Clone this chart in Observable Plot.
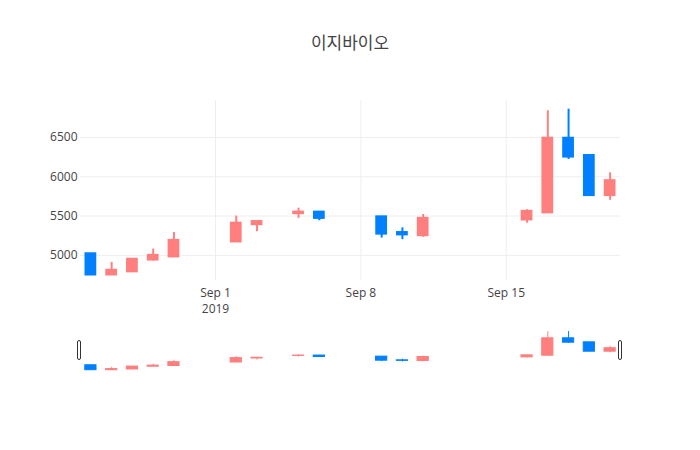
<!DOCTYPE html>
<html>
<head>
<meta charset="utf-8">
<script src="https://cdn.jsdelivr.net/npm/d3@7"></script>
<script src="https://cdn.jsdelivr.net/npm/@observablehq/plot@0.6"></script>
<style>
  html, body { margin: 0; padding: 0; background: #fff; }
  #wrap { position: relative; width: 700px; height: 450px; background: #fff; overflow: hidden; }
  #title { position: absolute; left: 0; top: 33px; width: 700px; text-align: center; z-index: 5;
    font-family: 'Open Sans', 'Noto Sans CJK KR', sans-serif; font-size: 17px; line-height: 20px; color: #444; }
  .pane { position: absolute; left: 0; }
  .handle { position: absolute; top: 340px; width: 2px; height: 18px; background: #fff; z-index: 5;
    border: 1px solid #333; border-radius: 2px; }
</style>
</head>
<body>
<div id="wrap">
  <div id="main" class="pane" style="top:0"></div>
  <div id="slider" class="pane" style="top:329px"></div>
  <div id="title">이지바이오</div>
  <div class="handle" style="left:77px"></div>
  <div class="handle" style="left:618px"></div>
</div>
<script>
// ---- data ----
const dates = ["2019-08-26","2019-08-27","2019-08-28","2019-08-29","2019-08-30",
  "2019-09-02","2019-09-03","2019-09-05","2019-09-06",
  "2019-09-09","2019-09-10","2019-09-11",
  "2019-09-16","2019-09-17","2019-09-18","2019-09-19","2019-09-20"];
const openV  = [5020, 4750, 4790, 4940, 4980, 5170, 5390, 5530, 5550, 5490, 5290, 5250, 5450, 5540, 6490, 6270, 5760];
const highV  = [5020, 4910, 4950, 5080, 5290, 5500, 5430, 5600, 5550, 5490, 5350, 5520, 5580, 6840, 6860, 6270, 6050];
const lowV   = [4750, 4750, 4790, 4930, 4980, 5170, 5300, 5470, 5440, 5220, 5200, 5230, 5410, 5540, 6220, 5760, 5700];
const closeV = [4750, 4810, 4950, 5000, 5190, 5410, 5430, 5550, 5470, 5270, 5260, 5470, 5560, 6490, 6250, 5760, 5950];
const xTicks = ["2019-09-01","2019-09-08","2019-09-15"];
const yTicks = [5000, 5500, 6000, 6500];
const xDomain = ["2019-08-25T12:00Z","2019-09-20T12:00Z"];
const yDomain = [4680, 6970];
const incColor = "#ff7f7f";
const decColor = "#0080ff";

const parse = d3.utcParse("%Y-%m-%d");
const rows = dates.map((d, i) => ({
  date: parse(d), open: openV[i], high: highV[i], low: lowV[i], close: closeV[i]
}));
const col = d => d.close >= d.open ? incColor : decColor;
const DAY = 864e5;

function candles(halfDays, wickW, bodyW) {
  return [
    Plot.ruleX(rows, {x: "date", y1: "low", y2: "high", stroke: col, strokeWidth: wickW}),
    Plot.rect(rows, {
      x1: d => new Date(+d.date - halfDays * DAY),
      x2: d => new Date(+d.date + halfDays * DAY),
      y1: "open", y2: "close", fill: col, stroke: col, strokeWidth: bodyW, strokeLinejoin: "miter"
    })
  ];
}

const xd = xDomain.map(s => new Date(s));
const tickDates = xTicks.map(parse);
const fmt = d3.utcFormat("%b %-d");

const main = Plot.plot({
  width: 700, height: 330,
  marginTop: 100, marginBottom: 50, marginLeft: 80, marginRight: 80,
  style: {fontFamily: "'Open Sans', sans-serif", fontSize: "12px", color: "#444", background: "transparent"},
  x: {type: "utc", domain: xd},
  y: {domain: yDomain},
  color: {type: "identity"},
  marks: [
    Plot.gridY(yTicks, {stroke: "#eee", strokeOpacity: 1}),
    Plot.gridX(tickDates, {stroke: "#eee", strokeOpacity: 1}),
    Plot.axisY(yTicks, {tickSize: 0, tickPadding: 3, label: null, fill: "#444", fontSize: 12, tickFormat: d => String(d)}),
    Plot.axisX(tickDates, {tickSize: 0, tickPadding: 5, label: null, fill: "#444", fontSize: 12, lineHeight: 1.33,
      tickFormat: (d, i) => fmt(d) + (i === 0 ? "\n" + d.getUTCFullYear() : "")}),
    ...candles(0.235, 2, 2)
  ]
});
document.getElementById("main").appendChild(main);

const slider = Plot.plot({
  width: 700, height: 42,
  marginTop: 0, marginBottom: 0, marginLeft: 80, marginRight: 80,
  style: {background: "transparent"},
  x: {type: "utc", domain: xd, axis: null},
  y: {domain: yDomain, axis: null},
  color: {type: "identity"},
  marks: candles(0.27, 1, 1)
});
document.getElementById("slider").appendChild(slider);
</script>
</body>
</html>
